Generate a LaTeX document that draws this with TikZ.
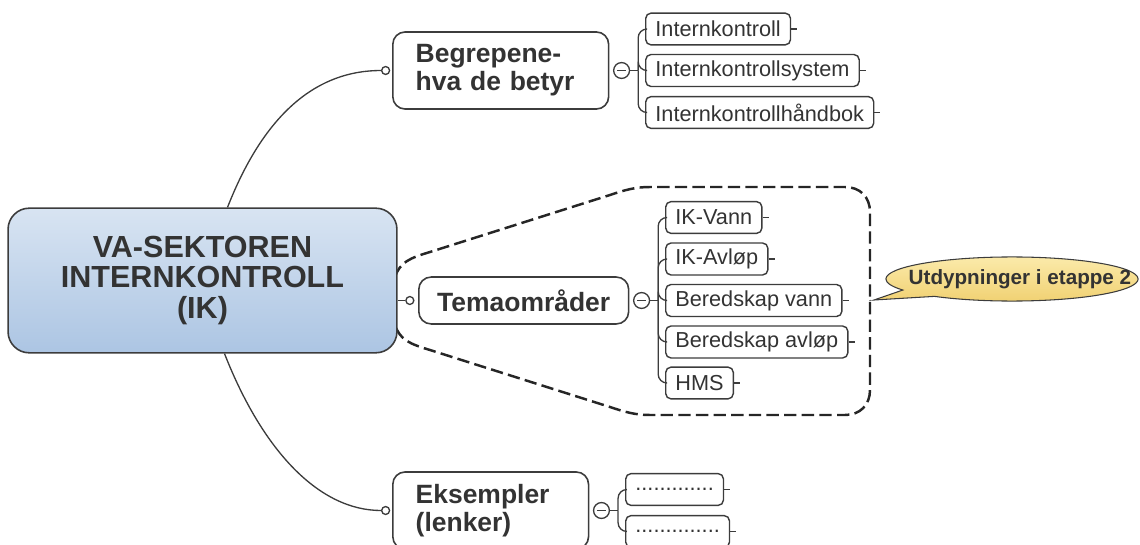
\documentclass[tikz,border=0pt]{standalone}
\usepackage{fontspec}
\setmainfont{Liberation Sans}
\usepackage{xcolor}
\usetikzlibrary{calc}
\usetikzlibrary{positioning}
\usetikzlibrary{shapes.callouts}
\definecolor{custom-text}{RGB}{51, 51, 51}
\definecolor{custom-line}{RGB}{60, 60, 60}
\definecolor{custom-blue-top}{RGB}{216, 228, 242}
\definecolor{custom-blue-bottom}{RGB}{172, 197, 227}
\definecolor{custom-yellow-top}{RGB}{251, 234, 170}
\definecolor{custom-yellow-bottom}{RGB}{240, 208, 112}
\tikzset{
  branch/.style={draw=custom-line, line width=0.75pt},
  main-box/.style={draw=custom-line, line width=0.9pt, rounded corners=12pt,
    top color=custom-blue-top, bottom color=custom-blue-bottom,
    minimum width=220.5pt, minimum height=82pt, align=center, text=custom-text,
    font=\fontsize{17.3}{17.5}\selectfont\bfseries},
  topic-box/.style={draw=custom-line, line width=0.9pt, rounded corners=7pt, fill=white,
    text=custom-text, font=\fontsize{15}{16}\selectfont\bfseries, anchor=west},
  leaf-box/.style={draw=custom-line, line width=0.8pt, rounded corners=3pt, fill=white,
    inner xsep=5.5pt, minimum height=18pt, anchor=west, text=custom-text,
    font=\fontsize{12.3}{14}\selectfont},
  pin-dot/.style={circle, draw=custom-line, line width=0.75pt, fill=white,
    minimum size=4.5pt, inner sep=0pt},
  fold-dot/.style={circle, draw=custom-line, line width=0.75pt, fill=white,
    minimum size=9pt, inner sep=0pt,
    path picture={\draw[custom-line, line width=0.9pt]
      ([xshift=-2.6pt]path picture bounding box.center) --
      ([xshift=2.6pt]path picture bounding box.center);}},
  group-line/.style={draw=black!85, line width=1.4pt, dash pattern=on 7pt off 3pt},
  note-bubble/.style={ellipse callout, draw=custom-line, line width=0.6pt,
    top color=custom-yellow-top, bottom color=custom-yellow-bottom,
    minimum width=143pt, minimum height=25pt, inner sep=0pt, text=custom-text,
    callout pointer arc=22, font=\fontsize{11.7}{13}\selectfont\bfseries}
}
\begin{document}
\begin{tikzpicture}[x=0.567pt, y=-0.567pt]
\useasboundingbox (0,0) rectangle (1140,545);
\clip (0,0) rectangle (1140,545);
\draw[group-line] (395,277) .. controls (400,262) and (410,258) .. (430,252) -- (610,195)
  .. controls (625,190) and (635,187) .. (650,187) -- (845,187)
  .. controls (860,187) and (870,197) .. (870,212) -- (870,390)
  .. controls (870,405) and (860,415) .. (845,415) -- (650,415)
  .. controls (635,415) and (625,412) .. (610,407) -- (430,350)
  .. controls (410,344) and (400,340) .. (395,325);
\node[main-box] (main) at (202.5,280.5) {VA-SEKTOREN\\INTERNKONTROLL\\(IK)};
\node[topic-box, text width=96.4pt, inner xsep=13pt, minimum height=43.7pt, align=left]
  (begr) at (392,70.5) {Begrepene-\\hva de betyr};
\node[topic-box, minimum width=119pt, minimum height=26.6pt] (tema) at (418,300.5) {Temaområder};
\node[topic-box, text width=85pt, inner xsep=13pt, minimum height=43.7pt, align=left]
  (eks) at (392,510.5) {Eksempler\\(lenker)};
\node[pin-dot, left=1pt of begr] (begr-pin) {};
\node[pin-dot, left=2pt of tema] (tema-pin) {};
\node[pin-dot, left=1pt of eks] (eks-pin) {};
\node[fold-dot, right=2pt of begr] (begr-fold) {};
\node[fold-dot, right=2pt of tema] (tema-fold) {};
\node[fold-dot, right=2pt of eks] (eks-fold) {};
\coordinate (begr-fork) at ($(begr-fold.east)+(8,0)$);
\coordinate (tema-fork) at ($(tema-fold.east)+(8,0)$);
\coordinate (eks-fork) at ($(eks-fold.east)+(8,0)$);
\node[leaf-box] (begr-a) at (645,29) {Internkontroll};
\node[leaf-box] (begr-b) at (645,70.5) {Internkontrollsystem};
\node[leaf-box] (begr-c) at (645,112.5) {Internkontrollhåndbok};
\node[leaf-box] (tema-a) at (665,217.5) {IK-Vann};
\node[leaf-box] (tema-b) at (665,259) {IK-Avløp};
\node[leaf-box] (tema-c) at (665,300.5) {Beredskap vann};
\node[leaf-box] (tema-d) at (665,342) {Beredskap avløp};
\node[leaf-box] (tema-e) at (665,383) {HMS};
\node[leaf-box] (eks-a) at (625,489.5) {.............};
\node[leaf-box] (eks-b) at (625,531.5) {..............};
\node[note-bubble, callout absolute pointer={(874,300)}] (note) at (1012,279)
  {\makebox[0pt]{\hspace*{9pt}Utdypninger i etappe 2}};
\coordinate (group-edge) at (870,300);
\draw[branch] ($(main.north)+(25,0)$) .. controls +(38,-97) and +(-62,0) .. (begr-pin.west);
\draw[branch] ($(main.south)+(22,0)$) .. controls +(38,97) and +(-62,0) .. (eks-pin.west);
\draw[branch] (tema-pin.west) -- (tema-pin.west -| main.east);
\foreach \topic in {begr, tema, eks}
  \draw[branch] (\topic-fold) -- (\topic-fork);
\foreach \leaf in {begr-a, begr-b, begr-c}
  \draw[branch, rounded corners=5pt] (begr-fork) |- (\leaf.west);
\foreach \leaf in {tema-a, tema-b, tema-c, tema-d, tema-e}
  \draw[branch, rounded corners=5pt] (tema-fork) |- (\leaf.west);
\foreach \leaf in {eks-a, eks-b}
  \draw[branch, rounded corners=5pt] (eks-fork) |- (\leaf.west);
\foreach \leaf in {begr-a, begr-b, begr-c, tema-a, tema-b, tema-c, tema-d, tema-e, eks-a, eks-b}
  \draw[branch] (\leaf.east) -- ++(6,0);
\draw[branch] (group-edge) -- (note.pointer);
\end{tikzpicture}
\end{document}
